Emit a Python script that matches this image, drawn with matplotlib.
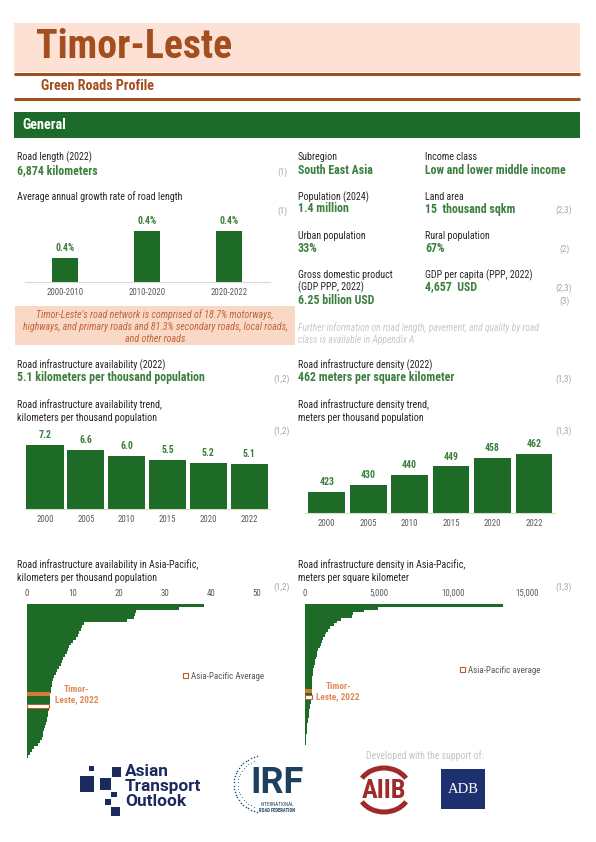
import matplotlib
matplotlib.use("Agg")
import matplotlib.pyplot as plt
import numpy as np
from matplotlib import font_manager
from matplotlib.patches import Rectangle, Arc, Patch

# pick a narrow sans if one is installed, else Roboto
installed = {f.name for f in font_manager.fontManager.ttflist}
FONT = 'Roboto'
for cand in ['Roboto Condensed', 'Liberation Sans Narrow', 'Open Sans Condensed']:
    if cand in installed:
        FONT = cand
        break
plt.rcParams['font.family'] = [FONT, 'DejaVu Sans']

# ---- data ----
growth_periods = ['2000-2010', '2010-2020', '2020-2022']
growth_rates = [0.37, 0.43, 0.43]          # % per year
growth_labels = ['0.4%', '0.4%', '0.4%']

trend_years = ['2000', '2005', '2010', '2015', '2020', '2022']
avail_trend = [7.2, 6.6, 6.0, 5.5, 5.2, 5.1]
density_trend = [423, 430, 440, 449, 458, 462]

# Asia-Pacific economies, sorted; km per thousand population
avail_ap = [38.5, 33.0, 23.6, 23.4, 23.2, 21.8, 12.3, 12.0, 11.7, 11.4, 11.0, 10.6,
            10.0, 9.6, 9.2, 8.9, 8.6, 8.2, 7.9, 7.6, 7.3, 6.9, 6.6, 6.2, 5.8, 5.6,
            5.5, 5.4, 5.3, 5.2, 5.1, 5.0, 4.9, 4.9, 4.8, 4.7, 4.6, 4.5, 4.4, 4.3,
            4.2, 3.9, 3.7, 3.5, 3.4, 3.2, 2.8, 2.3, 1.6, 1.0, 0.7, 0.3]
avail_timor = 30
avail_avg = 34
avail_ticks = [0, 10, 20, 30, 40, 50]

# Asia-Pacific economies, sorted; meters per sq km
density_ap = [13380, 4930, 4000, 3250, 3150, 2400, 2150, 1950, 1720, 1580, 1430, 1340,
              1240, 1160, 1060, 990, 910, 840, 790, 730, 690, 650, 610, 570, 540, 510,
              490, 475, 470, 468, 465, 462, 455, 445, 420, 390, 360, 330, 300, 280,
              250, 220, 190, 160, 140, 125, 110, 95, 80, 60, 45, 20]
density_timor = 31
density_avg = 33
density_ticks = [0, 5000, 10000, 15000]
density_ticklabels = ['0', '5,000', '10,000', '15,000']

# ---- colours ----
BROWN = '#A34E1E'
PINK = '#FCE1D4'
BAND = '#1D6B2A'
BAR = '#1E6B27'
VAL = '#3C7F3E'
DARK = '#262626'
REF = '#A6A6A6'
TICK = '#595959'
NOTE_BG = '#F9D8C6'
NOTE_TXT = '#C0653A'
ORANGE = '#D77A35'
LABEL_OR = '#E08A57'
AVG_EDGE = '#B65E2A'
NAVY = '#1B2A5E'

W, H = 596, 842
fig = plt.figure(figsize=(W / 100, H / 100), dpi=100)
bg = fig.add_axes([0, 0, 1, 1])
bg.set_xlim(0, W)
bg.set_ylim(H, 0)
bg.axis('off')


def box(x0, y0, x1, y1):
    return [x0 / W, 1 - y1 / H, (x1 - x0) / W, (y1 - y0) / H]


def txt(x, y, s, size=7.2, color=DARK, weight='normal', ha='left', **kw):
    bg.text(x, y, s, fontsize=size, color=color, fontweight=weight, ha=ha, va='center', **kw)


def label(x, y, s):
    txt(x, y, s, size=7.2)


def value(x, y, s):
    txt(x, y, s, size=8.6, color=VAL, weight='bold')


def ref(x, y, s):
    txt(x, y, s, size=6.5, color=REF, ha='center')


# ---- header ----
bg.add_patch(Rectangle((14, 23), 566, 49, color=PINK, lw=0))
bg.plot([14, 580], [73.5, 73.5], color=BROWN, lw=2.2, solid_capstyle='butt')
bg.plot([14, 580], [99, 99], color=BROWN, lw=2.2, solid_capstyle='butt')
txt(36, 47, 'Timor-Leste', size=28.7, color=BROWN, weight='bold')
txt(41, 86, 'Green Roads Profile', size=10.2, color=BROWN, weight='bold')
bg.add_patch(Rectangle((14, 112), 566, 26, color=BAND, lw=0))
txt(22, 125, 'General', size=10.3, color='white', weight='bold')

# ---- general info, left ----
label(17, 157, 'Road length (2022)')
value(17, 171, '6,874 kilometers')
ref(282, 172, '(1)')
label(17, 197, 'Average annual growth rate of road length')
ref(282, 211, '(1)')

ax = fig.add_axes(box(25, 205, 270, 282))
bars = ax.bar(range(3), growth_rates, width=0.32, color=BAR)
ax.bar_label(bars, labels=growth_labels, padding=4, fontsize=7, color=VAL, fontweight='bold')
ax.set_xlim(-0.49, 2.5)
ax.set_ylim(0.317, 0.488)
ax.set_xticks(range(3), growth_periods)
ax.set_yticks([])
ax.tick_params(length=0, labelsize=6.3, colors=TICK, pad=4.5)
for s in ['top', 'left', 'right']:
    ax.spines[s].set_visible(False)
ax.spines['bottom'].set_color('#D9D9D9')
ax.patch.set_alpha(0)

bg.add_patch(Rectangle((15, 306), 280, 39, color=NOTE_BG, lw=0))
bg.text(155, 326.5, "Timor-Leste's road network is comprised of 18.7% motorways,\n"
        "highways, and primary roads and 81.3% secondary roads, local roads,\n"
        "and other roads", fontsize=7.2, color=NOTE_TXT, style='italic',
        ha='center', va='center', linespacing=1.25)

# ---- general info, right ----
label(298, 157, 'Subregion')
value(298, 170, 'South East Asia')
label(425, 157, 'Income class')
value(425, 170, 'Low and lower middle income')
label(298, 197, 'Population (2024)')
value(298, 209, '1.4 million')
label(425, 197, 'Land area')
value(425, 209, '15  thousand sqkm')
ref(564, 210, '(2,3)')
label(298, 236, 'Urban population')
value(298, 248, '33%')
label(425, 236, 'Rural population')
value(425, 248, '67%')
ref(564, 249, '(2)')
label(298, 275, 'Gross domestic product')
label(298, 287, '(GDP PPP, 2022)')
value(298, 300, '6.25 billion USD')
label(425, 275, 'GDP per capita (PPP, 2022)')
value(425, 287, '4,657  USD')
ref(564, 288, '(2,3)')
ref(564, 301, '(3)')
txt(298, 328, 'Further information on road length, pavement, and quality by road',
    size=6.9, color='#C9C9C9', style='italic')
txt(298, 340, 'class is available in Appendix A', size=6.9, color='#C9C9C9', style='italic')

# ---- availability / density ----
label(17, 365, 'Road infrastructure availability (2022)')
value(17, 378, '5.1 kilometers per thousand population')
ref(282, 379, '(1,2)')
label(17, 405, 'Road infrastructure availability trend,')
label(17, 418, 'kilometers per thousand population')
ref(282, 431, '(1,2)')

label(298, 365, 'Road infrastructure density (2022)')
value(298, 378, '462 meters per square kilometer')
ref(564, 379, '(1,3)')
label(298, 405, 'Road infrastructure density trend,')
label(298, 418, 'meters per thousand population')
ref(564, 431, '(1,3)')


def trend_chart(rect, vals, ylim, xlim, width, fmt):
    a = fig.add_axes(box(*rect))
    b = a.bar(range(len(vals)), vals, width=width, color=BAR)
    a.bar_label(b, fmt=fmt, padding=3.5, fontsize=7, color=VAL, fontweight='bold')
    a.set_xlim(*xlim)
    a.set_ylim(*ylim)
    a.set_xticks(range(len(trend_years)), trend_years)
    a.set_yticks([])
    a.tick_params(length=0, labelsize=6.3, colors=TICK, pad=4.5)
    for s in ['top', 'left', 'right']:
        a.spines[s].set_visible(False)
    a.spines['bottom'].set_color('#CFE3C6')
    a.patch.set_alpha(0)
    return a


trend_chart((25, 420, 270, 509), avail_trend, (0, 10.0), (-0.49, 5.51), 0.91, '%.1f')
trend_chart((305, 440, 555, 513), density_trend, (401, 476.3), (-0.523, 5.506), 0.885, '%d')

# ---- Asia-Pacific distributions ----
label(17, 565, 'Road infrastructure availability in Asia-Pacific,')
label(17, 578, 'kilometers per thousand population')
ref(282, 587, '(1,2)')
label(298, 565, 'Road infrastructure density in Asia-Pacific,')
label(298, 578, 'meters per square kilometer')
ref(564, 587, '(1,3)')


def dist_chart(rect, vals, ti, ai, xmax, ticks, ticklabels, legend_text, leg_xy):
    a = fig.add_axes(box(*rect))
    n = len(vals)
    a.barh(range(n), vals, height=1.0, color=BAR, lw=0)
    a.barh([ti], [vals[ti]], height=1.4, color=ORANGE, lw=0)
    a.barh([ai], [vals[ai]], height=1.3, color='white', edgecolor=AVG_EDGE, lw=0.8)
    a.annotate('Timor-\nLeste, 2022', xy=(vals[ti], ti), xytext=(19, 0),
               textcoords='offset points', ha='center', va='center', fontsize=6.7,
               color=LABEL_OR, fontweight='bold', linespacing=1.2)
    a.set_xlim(0, xmax)
    a.set_ylim(n - 0.5, -0.5)
    a.xaxis.set_ticks_position('top')
    a.set_xticks(ticks, ticklabels)
    a.set_yticks([])
    a.tick_params(length=0, labelsize=6.3, colors=TICK, pad=4.5)
    for s in a.spines.values():
        s.set_visible(False)
    a.legend(handles=[Patch(facecolor='white', edgecolor=AVG_EDGE, lw=0.8, label=legend_text)],
             loc='center left', bbox_to_anchor=leg_xy, frameon=False, fontsize=6.5,
             handlelength=0.5, handleheight=0.5, handletextpad=0.3, borderpad=0,
             labelcolor=TICK)
    a.patch.set_alpha(0)
    return a


dist_chart((27, 604, 257, 758), avail_ap, avail_timor, avail_avg, 50,
           avail_ticks, [str(t) for t in avail_ticks], 'Asia-Pacific Average', (0.66, 0.532))
dist_chart((305, 604, 527, 748), density_ap, density_timor, density_avg, 15000,
           density_ticks, density_ticklabels, 'Asia-Pacific average', (0.68, 0.54))

# ---- footer logos ----
txt(425, 756, 'Developed with the support of:', size=7, color='#C4C4C4', ha='center')

# Asian Transport Outlook
for (x, y, w, h) in [(80, 776, 14, 16), (89, 766, 5, 5), (112, 767, 9, 10), (100, 778, 11, 12),
                     (111, 792, 6, 5), (105, 799, 6, 6), (111, 807, 9, 9)]:
    bg.add_patch(Rectangle((x, y), w, h, color=NAVY, lw=0))
for yy, word in [(771, 'Asian'), (786.5, 'Transport'), (802, 'Outlook')]:
    bg.text(125, yy, word, fontsize=12.4, color=NAVY, fontweight='bold', va='center',
            family=['Roboto', 'DejaVu Sans'])

# IRF
ang = np.radians(np.linspace(100, 260, 26))
bg.scatter(262 + 28 * np.cos(ang), 784 - 28 * np.sin(ang), s=1.2, color='#1F4E6B', lw=0)
ang2 = np.radians(np.linspace(110, 250, 20))
bg.scatter(262 + 24 * np.cos(ang2), 784 - 24 * np.sin(ang2), s=0.8, color='#4A8AA8', lw=0)
bg.text(277, 801, 'IRF', fontsize=26, color='#1F3F5F', fontweight='bold', ha='center',
        va='bottom', family=['Roboto', 'DejaVu Sans'])
txt(277, 804.5, 'INTERNATIONAL', size=3.6, color='#1F3F5F', ha='center')
txt(277, 810.5, 'ROAD FEDERATION', size=3.3, color='#1F3F5F', weight='bold', ha='center')

# AIIB
AIIB_RED = '#9E2A2B'
bg.add_patch(Arc((384, 790), 52, 44, theta1=208, theta2=332, color=AIIB_RED, lw=3.6))
bg.add_patch(Arc((384, 790), 52, 44, theta1=28, theta2=152, color=AIIB_RED, lw=3.6))
txt(384, 790.5, 'AIIB', size=19, color=AIIB_RED, weight='bold', ha='center')

# ADB
bg.add_patch(Rectangle((441, 769), 44, 40, color='#1D3170', lw=0))
bg.text(463, 789.5, 'ADB', fontsize=10.5, color='white', ha='center', va='center',
        family=['Liberation Serif', 'DejaVu Serif'])

fig.savefig('out.png', dpi=100)
